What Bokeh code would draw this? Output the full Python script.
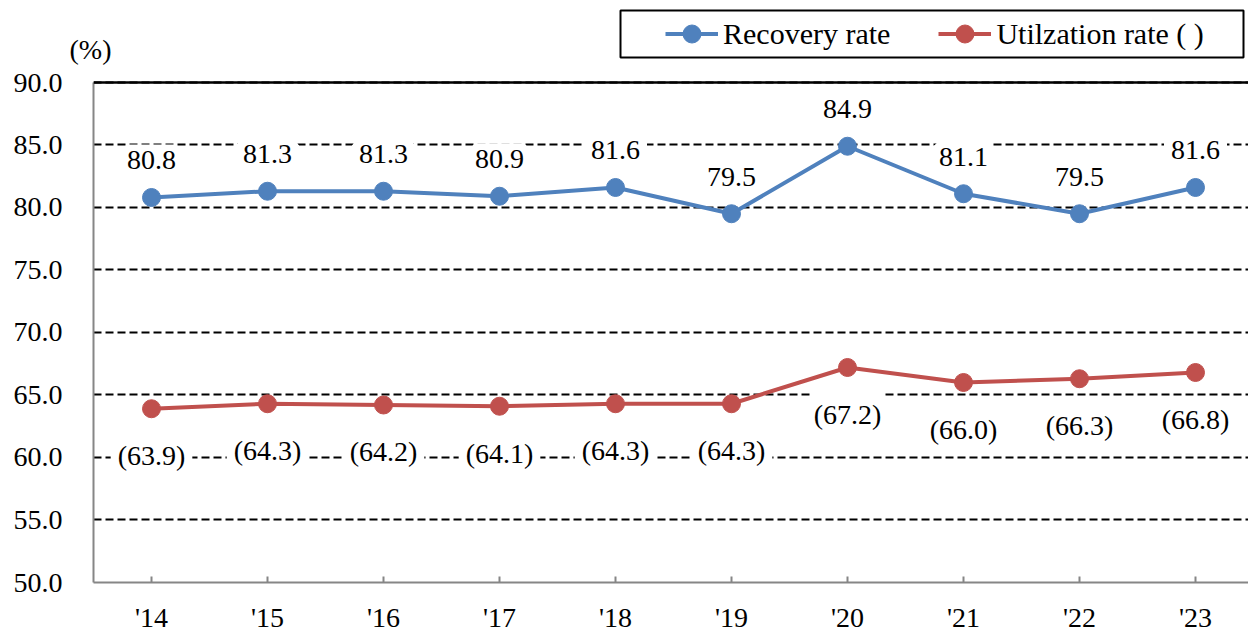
from bokeh.plotting import figure
from bokeh.layouts import column
from bokeh.models import (ColumnDataSource, LabelSet, Span, Legend, LegendItem,
                          FixedTicker, NumeralTickFormatter, Range1d)
from bokeh.core.properties import value
from bokeh.embed import file_html
from bokeh.resources import INLINE

years = ["'14", "'15", "'16", "'17", "'18", "'19", "'20", "'21", "'22", "'23"]
recovery = [80.8, 81.3, 81.3, 80.9, 81.6, 79.5, 84.9, 81.1, 79.5, 81.6]
utilization = [63.9, 64.3, 64.2, 64.1, 64.3, 64.3, 67.2, 66.0, 66.3, 66.8]
y_ticks = [50, 55, 60, 65, 70, 75, 80, 85, 90]
series_names = ["Recovery rate", "Utilzation rate ( )"]
unit_text = "(%)"

BLUE = "#4F81BD"
RED = "#C0504D"
GRAY = "#868686"
FONT = "'Liberation Serif', serif"
W = 1248
HEAD_H = 67
LEFT = 93

xs = list(range(len(years)))
src = ColumnDataSource(dict(
    x=xs,
    rec=recovery,
    util=utilization,
    rec_lbl=["%.1f" % v for v in recovery],
    util_lbl=["(%.1f)" % v for v in utilization],
))

# ---------------- header (unit label + legend) ----------------
h = figure(width=W, height=HEAD_H, output_backend="svg", toolbar_location=None,
           x_range=Range1d(LEFT, W), y_range=Range1d(HEAD_H, 0),
           min_border_left=LEFT, min_border_right=0, min_border_top=0,
           min_border_bottom=0, x_axis_type=None)
h.outline_line_color = None
h.xgrid.visible = False
h.ygrid.visible = False
h.extra_y_ranges = {"off": Range1d(1000, 1001)}
# unit label "(%)" as the header's single y tick label
h.yaxis.ticker = FixedTicker(ticks=[54])
h.yaxis.major_label_overrides = {54: unit_text}
h.yaxis.axis_line_color = None
h.yaxis.major_tick_line_color = None
h.yaxis.minor_tick_line_color = None
h.yaxis.major_label_standoff = -24
h.yaxis.major_label_text_font = FONT
h.yaxis.major_label_text_font_size = "28px"
h.yaxis.major_label_text_color = "black"
# legend frame
h.quad(left=[620], right=[1243], top=[10], bottom=[57], fill_color="white",
       line_color="black", line_width=2)
# legend keys (same series, mapped off-view)
d1l = h.line("x", "rec", source=src, y_range_name="off", line_color=BLUE, line_width=4)
d1c = h.scatter("x", "rec", source=src, y_range_name="off", size=18,
                fill_color=BLUE, line_color=BLUE)
d2l = h.line("x", "util", source=src, y_range_name="off", line_color=RED, line_width=4)
d2c = h.scatter("x", "util", source=src, y_range_name="off", size=18,
                fill_color=RED, line_color=RED)
legend = Legend(items=[LegendItem(label=series_names[0], renderers=[d1l, d1c]),
                       LegendItem(label=series_names[1], renderers=[d2l, d2c])],
                location=(665 - LEFT, HEAD_H - 56), orientation="horizontal",
                glyph_width=53, glyph_height=45, label_standoff=5, spacing=48,
                padding=0, margin=0,
                label_text_font=FONT, label_text_font_size="30px",
                label_text_color="black",
                border_line_color=None, background_fill_alpha=0)
h.add_layout(legend, "center")

# ---------------- main chart ----------------
TOP_PAD = 3
p = figure(width=W, height=635 - HEAD_H, output_backend="svg", toolbar_location=None,
           x_range=Range1d(-0.5, -0.5 + 1155 / 116),
           y_range=Range1d(50, 90 + TOP_PAD / 12.525),
           min_border_left=LEFT, min_border_right=0,
           min_border_top=82 - HEAD_H - TOP_PAD, min_border_bottom=52)
p.outline_line_color = None
p.background_fill_color = "white"

p.xaxis.ticker = FixedTicker(ticks=xs)
p.xaxis.major_label_overrides = {i: y for i, y in enumerate(years)}
p.yaxis.ticker = FixedTicker(ticks=y_ticks)
p.yaxis.formatter = NumeralTickFormatter(format="0.0")
p.yaxis.bounds = (50, 90)
for ax in (p.xaxis, p.yaxis):
    ax.axis_line_color = GRAY
    ax.axis_line_width = 2
    ax.major_label_text_font = FONT
    ax.major_label_text_font_size = "28px"
    ax.major_label_text_color = "black"
    ax.minor_tick_line_color = None
p.xaxis.major_tick_in = 6
p.xaxis.major_tick_out = 0
p.xaxis.major_tick_line_color = GRAY
p.xaxis.major_tick_line_width = 2
p.xaxis.major_label_standoff = 19
p.yaxis.major_tick_line_color = None
p.yaxis.major_tick_in = 0
p.yaxis.major_tick_out = 0
p.yaxis.major_label_standoff = 31

p.xgrid.grid_line_color = None
p.ygrid.grid_line_color = "black"
p.ygrid.grid_line_dash = "8 4"
p.ygrid.grid_line_width = 2

p.add_layout(Span(location=90, dimension="width", line_color="black", line_width=2.5))

p.line("x", "rec", source=src, line_color=BLUE, line_width=4)
p.scatter("x", "rec", source=src, size=18, fill_color=BLUE, line_color=BLUE)
p.line("x", "util", source=src, line_color=RED, line_width=4)
p.scatter("x", "util", source=src, size=18, fill_color=RED, line_color=RED)

for col, lbl, off in (("rec", "rec_lbl", 37), ("util", "util_lbl", -47)):
    p.add_layout(LabelSet(x="x", y=col, text=lbl, source=src, y_offset=off,
                          text_align="center", text_baseline="middle",
                          text_font=value(FONT), text_font_size=value("28px"),
                          text_color="black", background_fill_color="white",
                          border_line_color="white", border_line_width=14))

layout = column(h, p, spacing=0)
open("out.html", "w").write(file_html(layout, INLINE))
